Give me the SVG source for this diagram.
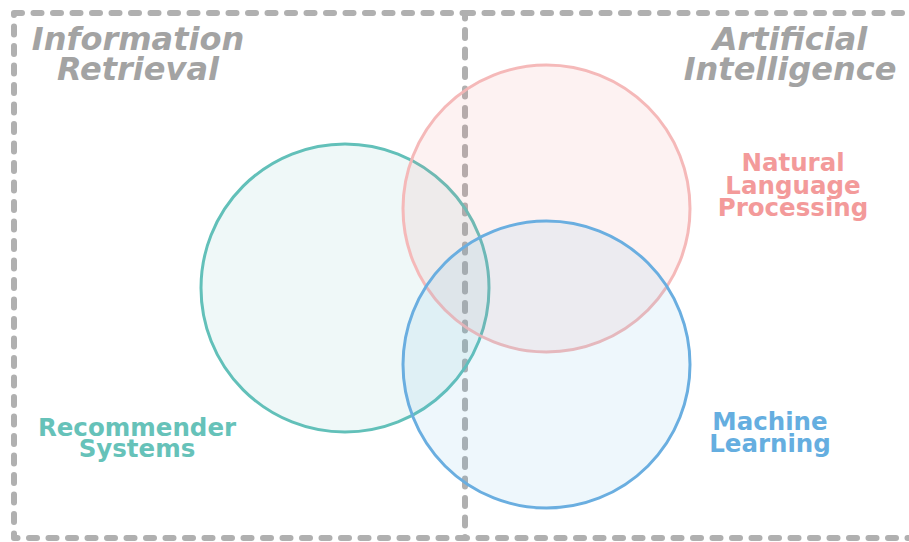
<svg xmlns="http://www.w3.org/2000/svg" width="909" height="542" viewBox="0 0 909 542">
<style>
.box{fill:none;stroke:#b0b0b0;stroke-width:6;stroke-dasharray:8 11.5;stroke-linecap:round;stroke-linejoin:round}
.c{stroke-width:3}
text{font-family:"DejaVu Sans","Liberation Sans",sans-serif;font-weight:bold;text-anchor:middle}
.title{font-style:italic;font-size:32px;fill:#a3a3a3}
.lbl{font-size:24.5px}
</style>
<rect width="909" height="542" fill="#ffffff"/>
<g id="regions">
<rect id="ir-box" class="box" x="14" y="13" width="451" height="525"/>
<path id="ai-box" class="box" d="M465,13 H925 V538 H465"/>
</g>
<g id="connectors"></g>
<g id="recsys">
<circle class="c" cx="345" cy="288" r="144" fill="#5fbfb8" fill-opacity="0.1" stroke="#62c0b9"/>
</g>
<g id="nlp">
<circle class="c" cx="546.5" cy="208.5" r="143.5" fill="#f08080" fill-opacity="0.1" stroke="#f4b5b5" stroke-opacity="0.95"/>
</g>
<g id="ml">
<circle class="c" cx="546.5" cy="364.5" r="143.5" fill="#5dade2" fill-opacity="0.1" stroke="#6aaee0"/>
</g>
<g id="ir-label"><text class="title" x="138" y="50">Information</text><text class="title" x="138" y="80">Retrieval</text></g>
<g id="ai-label"><text class="title" x="790" y="50">Artificial</text><text class="title" x="790" y="80">Intelligence</text></g>
<g id="nlp-label"><text class="lbl" x="793" y="171" fill="#f39a9a">Natural</text><text class="lbl" x="793" y="194" fill="#f39a9a">Language</text><text class="lbl" x="793" y="216" fill="#f39a9a">Processing</text></g>
<g id="recsys-label"><text class="lbl" x="137" y="436" fill="#66c2b9">Recommender</text><text class="lbl" x="137" y="457" fill="#66c2b9">Systems</text></g>
<g id="ml-label"><text class="lbl" x="770" y="430" fill="#65aee0">Machine</text><text class="lbl" x="770" y="452" fill="#65aee0">Learning</text></g>
</svg>
